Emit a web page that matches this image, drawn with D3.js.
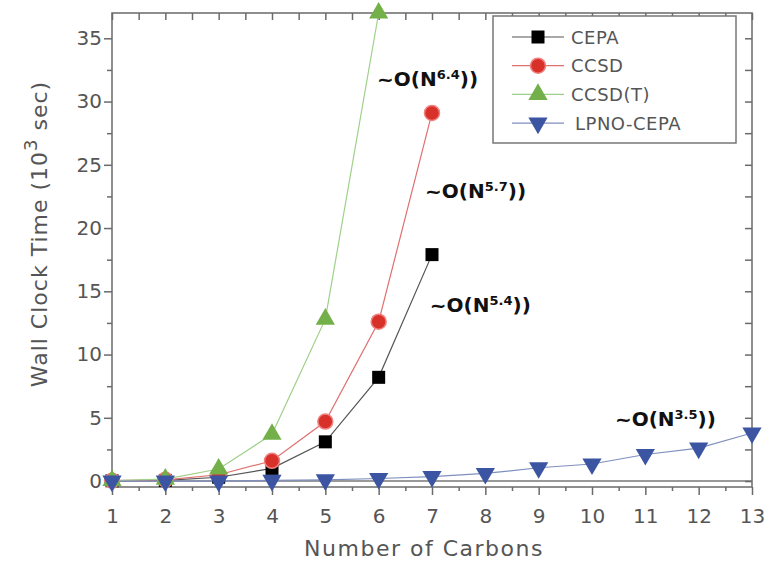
<!DOCTYPE html>
<html><head><meta charset="utf-8">
<script src="https://cdn.jsdelivr.net/npm/d3@7"></script>
<style>body{margin:0;background:#fff}svg{display:block}</style>
</head><body>
<svg id="c" width="772" height="563"></svg>
<script>
const carbons = [1,2,3,4,5,6,7,8,9,10,11,12,13];
const cepa   = [0.02,0.05,0.3,1.0,3.1,8.2,17.9];
const ccsd   = [0.03,0.1,0.5,1.6,4.7,12.6,29.1];
const ccsdT  = [0.04,0.15,0.95,3.7,12.8,37.0];
const lpno   = [0.0,0.0,0.0,0.05,0.1,0.2,0.35,0.6,1.05,1.35,2.1,2.6,3.8];
const seriesNames = ["CEPA","CCSD","CCSD(T)","LPNO-CEPA"];
const yTicks = [0,5,10,15,20,25,30,35];
const annotations = [
  {base:"~O(N", sup:"6.4", tail:"))", x:5.97, y:31.2},
  {base:"~O(N", sup:"5.7", tail:"))", x:6.87, y:22.35},
  {base:"~O(N", sup:"5.4", tail:"))", x:6.96, y:13.35},
  {base:"~O(N", sup:"3.5", tail:"))", x:10.43, y:4.34}
];

const svg = d3.select("#c");
const L=112, R=752, T=13, B=487;
const x = d3.scaleLinear().domain([1,13]).range([L,R]);
const y = d3.scaleLinear().domain([-0.47,37]).range([B,T]);
const axisCol="#6a6a6a", txtCol="#555";
const font="'DejaVu Sans', sans-serif";

// frame
svg.append("rect").attr("x",L).attr("y",T).attr("width",R-L).attr("height",B-T)
  .attr("fill","none").attr("stroke",axisCol).attr("stroke-width",1.5);
// zero line
svg.append("line").attr("x1",L).attr("x2",R).attr("y1",y(0)).attr("y2",y(0))
  .attr("stroke","#777").attr("stroke-width",1.5);

const minorY = d3.range(2.5,37,5);
const halfX = d3.range(1.5,13,1);
const allHalfX = d3.range(1,13.01,0.5);

function styleAxis(g){
  g.select(".domain").remove();
  g.selectAll("line").attr("stroke",axisCol).attr("stroke-width",1.5);
  g.selectAll("text").attr("fill",txtCol).style("font-family",font).style("font-size","20px");
}
// left axis
svg.append("g").attr("transform",`translate(${L},0)`)
  .call(d3.axisLeft(y).tickValues(yTicks).tickSize(8).tickPadding(2).tickFormat(d3.format("d"))).call(styleAxis);
svg.append("g").attr("transform",`translate(${L},0)`)
  .call(d3.axisLeft(y).tickValues(minorY).tickSize(5).tickFormat("")).call(styleAxis);
// right axis inward
svg.append("g").attr("transform",`translate(${R},0)`)
  .call(d3.axisLeft(y).tickValues(yTicks.concat(minorY)).tickSize(7).tickFormat("")).call(styleAxis);
// bottom axis
svg.append("g").attr("transform",`translate(0,${B})`)
  .call(d3.axisBottom(x).tickValues(carbons).tickSize(8).tickPadding(14).tickFormat(d3.format("d"))).call(styleAxis);
svg.append("g").attr("transform",`translate(0,${B})`)
  .call(d3.axisBottom(x).tickValues(halfX).tickSize(4).tickFormat("")).call(styleAxis);
// top axis inward
svg.append("g").attr("transform",`translate(0,${T})`)
  .call(d3.axisBottom(x).tickValues(allHalfX).tickSize(7).tickFormat("")).call(styleAxis);

// axis titles
svg.append("text").attr("x",424).attr("y",556).attr("text-anchor","middle")
  .attr("fill",txtCol).style("font-family",font).style("font-size","22px").style("letter-spacing","1.5px").text("Number of Carbons");
const yt = svg.append("text").attr("transform","translate(47,234) rotate(-90)").attr("text-anchor","middle")
  .attr("fill",txtCol).style("font-family",font).style("font-size","22px").style("letter-spacing","1px");
yt.append("tspan").text("Wall Clock Time (10");
yt.append("tspan").attr("dy",-10).style("font-size","18px").text("3");
yt.append("tspan").attr("dy",10).text("  sec)");

// series
const series = [
  {name:"CEPA", vals:cepa, line:"#555", fill:"#000", stroke:"#000", shape:"square"},
  {name:"CCSD", vals:ccsd, line:"#e07070", fill:"#d8312a", stroke:"#f08080", shape:"circle"},
  {name:"CCSD(T)", vals:ccsdT, line:"#9fd08a", fill:"#74b04a", stroke:"#9fd08a", shape:"tri"},
  {name:"LPNO-CEPA", vals:lpno, line:"#7f8fbf", fill:"#3b55a3", stroke:"#3b55a3", shape:"dtri"}
];
const line = d3.line().x(d=>x(d[0])).y(d=>y(d[1]));
function marker(g, s, cx, cy){
  if(s.shape==="square"){
    g.append("rect").attr("x",cx-6.5).attr("y",cy-6.5).attr("width",13).attr("height",13).attr("fill",s.fill);
  } else if(s.shape==="circle"){
    g.append("circle").attr("cx",cx).attr("cy",cy).attr("r",7.5).attr("fill",s.fill).attr("stroke",s.stroke).attr("stroke-width",1.5);
  } else if(s.shape==="tri"){
    g.append("path").attr("d",d3.symbol(d3.symbolTriangle,160)()).attr("transform",`translate(${cx},${cy})`).attr("fill",s.fill);
  } else {
    g.append("path").attr("d",d3.symbol(d3.symbolTriangle,160)()).attr("transform",`translate(${cx},${cy}) rotate(180)`).attr("fill",s.fill);
  }
}
series.forEach(s=>{
  const pts = s.vals.map((v,i)=>[carbons[i],v]);
  svg.append("path").datum(pts).attr("d",line).attr("fill","none").attr("stroke",s.line).attr("stroke-width",1.2);
});
[0,1,2,3].forEach(k=>{
  const s=series[k];
  const g=svg.append("g");
  s.vals.forEach((v,i)=>marker(g,s,x(carbons[i]),y(v)));
});

// annotations
annotations.forEach(a=>{
  const t=svg.append("text").attr("x",x(a.x)).attr("y",y(a.y)).attr("fill","#111")
    .style("font-family","'DejaVu Sans', sans-serif").style("font-weight","bold").style("font-size","20px");
  t.append("tspan").text(a.base);
  t.append("tspan").attr("dy",-7).style("font-size","13px").text(a.sup);
  t.append("tspan").attr("dy",7).text(a.tail);
});

// legend
const lg=svg.append("g");
lg.append("rect").attr("x",493).attr("y",16).attr("width",243).attr("height",127)
  .attr("fill","#fff").attr("stroke","#777").attr("stroke-width",1.5);
series.forEach((s,i)=>{
  const cy=37+i*28.7;
  lg.append("line").attr("x1",512).attr("x2",564).attr("y1",cy).attr("y2",cy).attr("stroke",s.line).attr("stroke-width",1.2);
  marker(lg,s,538,cy);
  lg.append("text").attr("x",i===3?575:571).attr("y",cy+6.5).attr("fill",txtCol)
    .style("font-family",font).style("font-size","18px").style("letter-spacing","0.5px").text(s.name);
});
</script>
</body></html>
